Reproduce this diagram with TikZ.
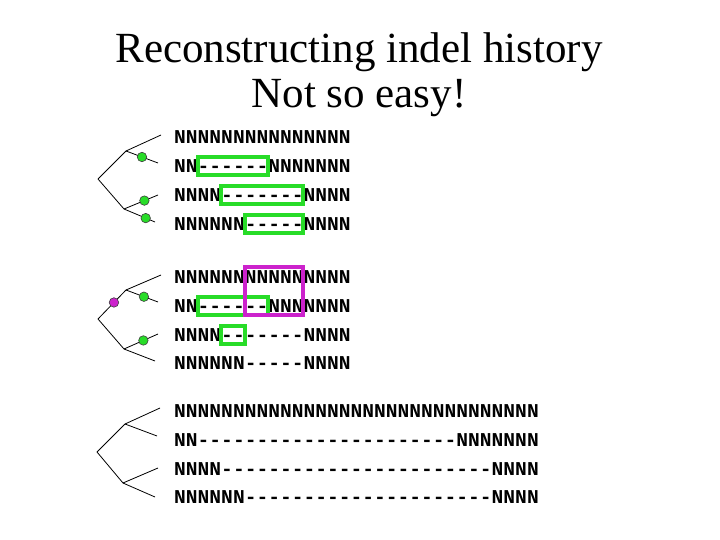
\documentclass[tikz,border=0pt]{standalone}
\usepackage{fontspec}
\setmainfont{Liberation Serif}
\newfontfamily\seqfont{Liberation Mono}
\usetikzlibrary{positioning}

\definecolor{boxgreen}{RGB}{40,220,40}
\definecolor{boxmagenta}{RGB}{204,34,204}
\newlength\cw
\setlength\cw{11.76pt}
% one gap character per box, so no dash ligatures
\newcommand\gaps[1]{\foreach \k in {1,...,#1}{\hbox{-}}}

\begin{document}
\begin{tikzpicture}[
    x=1pt, y=-1pt,
    seq/.style={anchor=west, inner sep=0pt,
        font=\seqfont\bfseries\fontsize{19.6}{20}\selectfont},
    titletext/.style={anchor=base, inner sep=0pt,
        font=\fontsize{43}{45}\selectfont},
    branch/.style={draw=black, line width=0.8pt},
    gdot/.style={circle, draw=black!75, fill=boxgreen, line width=0.6pt,
        minimum size=9.5pt, inner sep=0pt},
    mdot/.style={gdot, fill=boxmagenta},
    gbox/.style={draw=boxgreen, line width=4pt},
    mbox/.style={draw=boxmagenta, line width=4pt}
]
\useasboundingbox (0,0) rectangle (720,540);

% Title
\node[titletext] (title) at (359,63) {Reconstructing indel history};
\node[titletext] (subtitle) at (359,108) {Not so easy!};

% Sequences
\node[seq] (s11) at (174,137.5) {NNNNNNNNNNNNNNN};
\node[seq] (s12) at (174,166.3) {NN\gaps{6}NNNNNNN};
\node[seq] (s13) at (174,195.1) {NNNN\gaps{7}NNNN};
\node[seq] (s14) at (174,223.9) {NNNNNN\gaps{5}NNNN};

\node[seq] (s21) at (174,277.0) {NNNNNNNNNNNNNNN};
\node[seq] (s22) at (174,305.8) {NN\gaps{6}NNNNNNN};
\node[seq] (s23) at (174,334.6) {NNNN\gaps{7}NNNN};
\node[seq] (s24) at (174,363.4) {NNNNNN\gaps{5}NNNN};

\node[seq] (s31) at (174,411.0) {NNNNNNNNNNNNNNNNNNNNNNNNNNNNNNN};
\node[seq] (s32) at (174,439.8) {NN\gaps{22}NNNNNNN};
\node[seq] (s33) at (174,468.6) {NNNN\gaps{23}NNNN};
\node[seq] (s34) at (174,497.4) {NNNNNN\gaps{21}NNNN};

% Trees
\coordinate (r1) at (98,179);
\coordinate (u1) at (126,151);
\coordinate (l1) at (124,209);
\coordinate (a1) at (161,135);
\coordinate (b1) at (158,163);
\coordinate (c1) at (158,195);
\coordinate (d1) at (155,222);

\coordinate (r2) at (98,319);
\coordinate (u2) at (126,290);
\coordinate (l2) at (124,349);
\coordinate (a2) at (161,275);
\coordinate (b2) at (158,302);
\coordinate (c2) at (158,334);
\coordinate (d2) at (155,361);

\coordinate (r3) at (97,452);
\coordinate (u3) at (125,424);
\coordinate (l3) at (123,483);
\coordinate (a3) at (160,408);
\coordinate (b3) at (157,436);
\coordinate (c3) at (158,468);
\coordinate (d3) at (155,497);

\draw[branch] (r1) -- (u1);
\draw[branch] (r1) -- (l1);
\draw[branch] (u1) -- (a1);
\draw[branch] (u1) -- node[gdot, pos=0.5] (g11) {} (b1);
\draw[branch] (l1) -- node[gdot, pos=0.6] (g12) {} (c1);
\draw[branch] (l1) -- node[gdot, pos=0.7] (g13) {} (d1);

\draw[branch] (r2) -- node[mdot, pos=0.57] (m21) {} (u2);
\draw[branch] (r2) -- (l2);
\draw[branch] (u2) -- (a2);
\draw[branch] (u2) -- node[gdot, pos=0.56] (g21) {} (b2);
\draw[branch] (l2) -- node[gdot, pos=0.57] (g22) {} (c2);
\draw[branch] (l2) -- (d2);

\draw[branch] (r3) -- (u3);
\draw[branch] (r3) -- (l3);
\draw[branch] (u3) -- (a3);
\draw[branch] (u3) -- (b3);
\draw[branch] (l3) -- (c3);
\draw[branch] (l3) -- (d3);

% Indel boxes
\draw[gbox] ([xshift=2*\cw, yshift=9pt]s12.west) rectangle ([xshift=8*\cw, yshift=-9pt]s12.west);
\draw[gbox] ([xshift=4*\cw, yshift=9pt]s13.west) rectangle ([xshift=11*\cw, yshift=-9pt]s13.west);
\draw[gbox] ([xshift=6*\cw, yshift=9pt]s14.west) rectangle ([xshift=11*\cw, yshift=-9pt]s14.west);

\draw[gbox] ([xshift=2*\cw, yshift=9pt]s22.west) rectangle ([xshift=8*\cw, yshift=-9pt]s22.west);
\draw[gbox] ([xshift=4*\cw, yshift=9pt]s23.west) rectangle ([xshift=6*\cw, yshift=-9pt]s23.west);
\draw[mbox] ([xshift=6*\cw, yshift=10pt]s21.west) rectangle ([xshift=11*\cw, yshift=-9pt]s22.west);

\end{tikzpicture}
\end{document}
